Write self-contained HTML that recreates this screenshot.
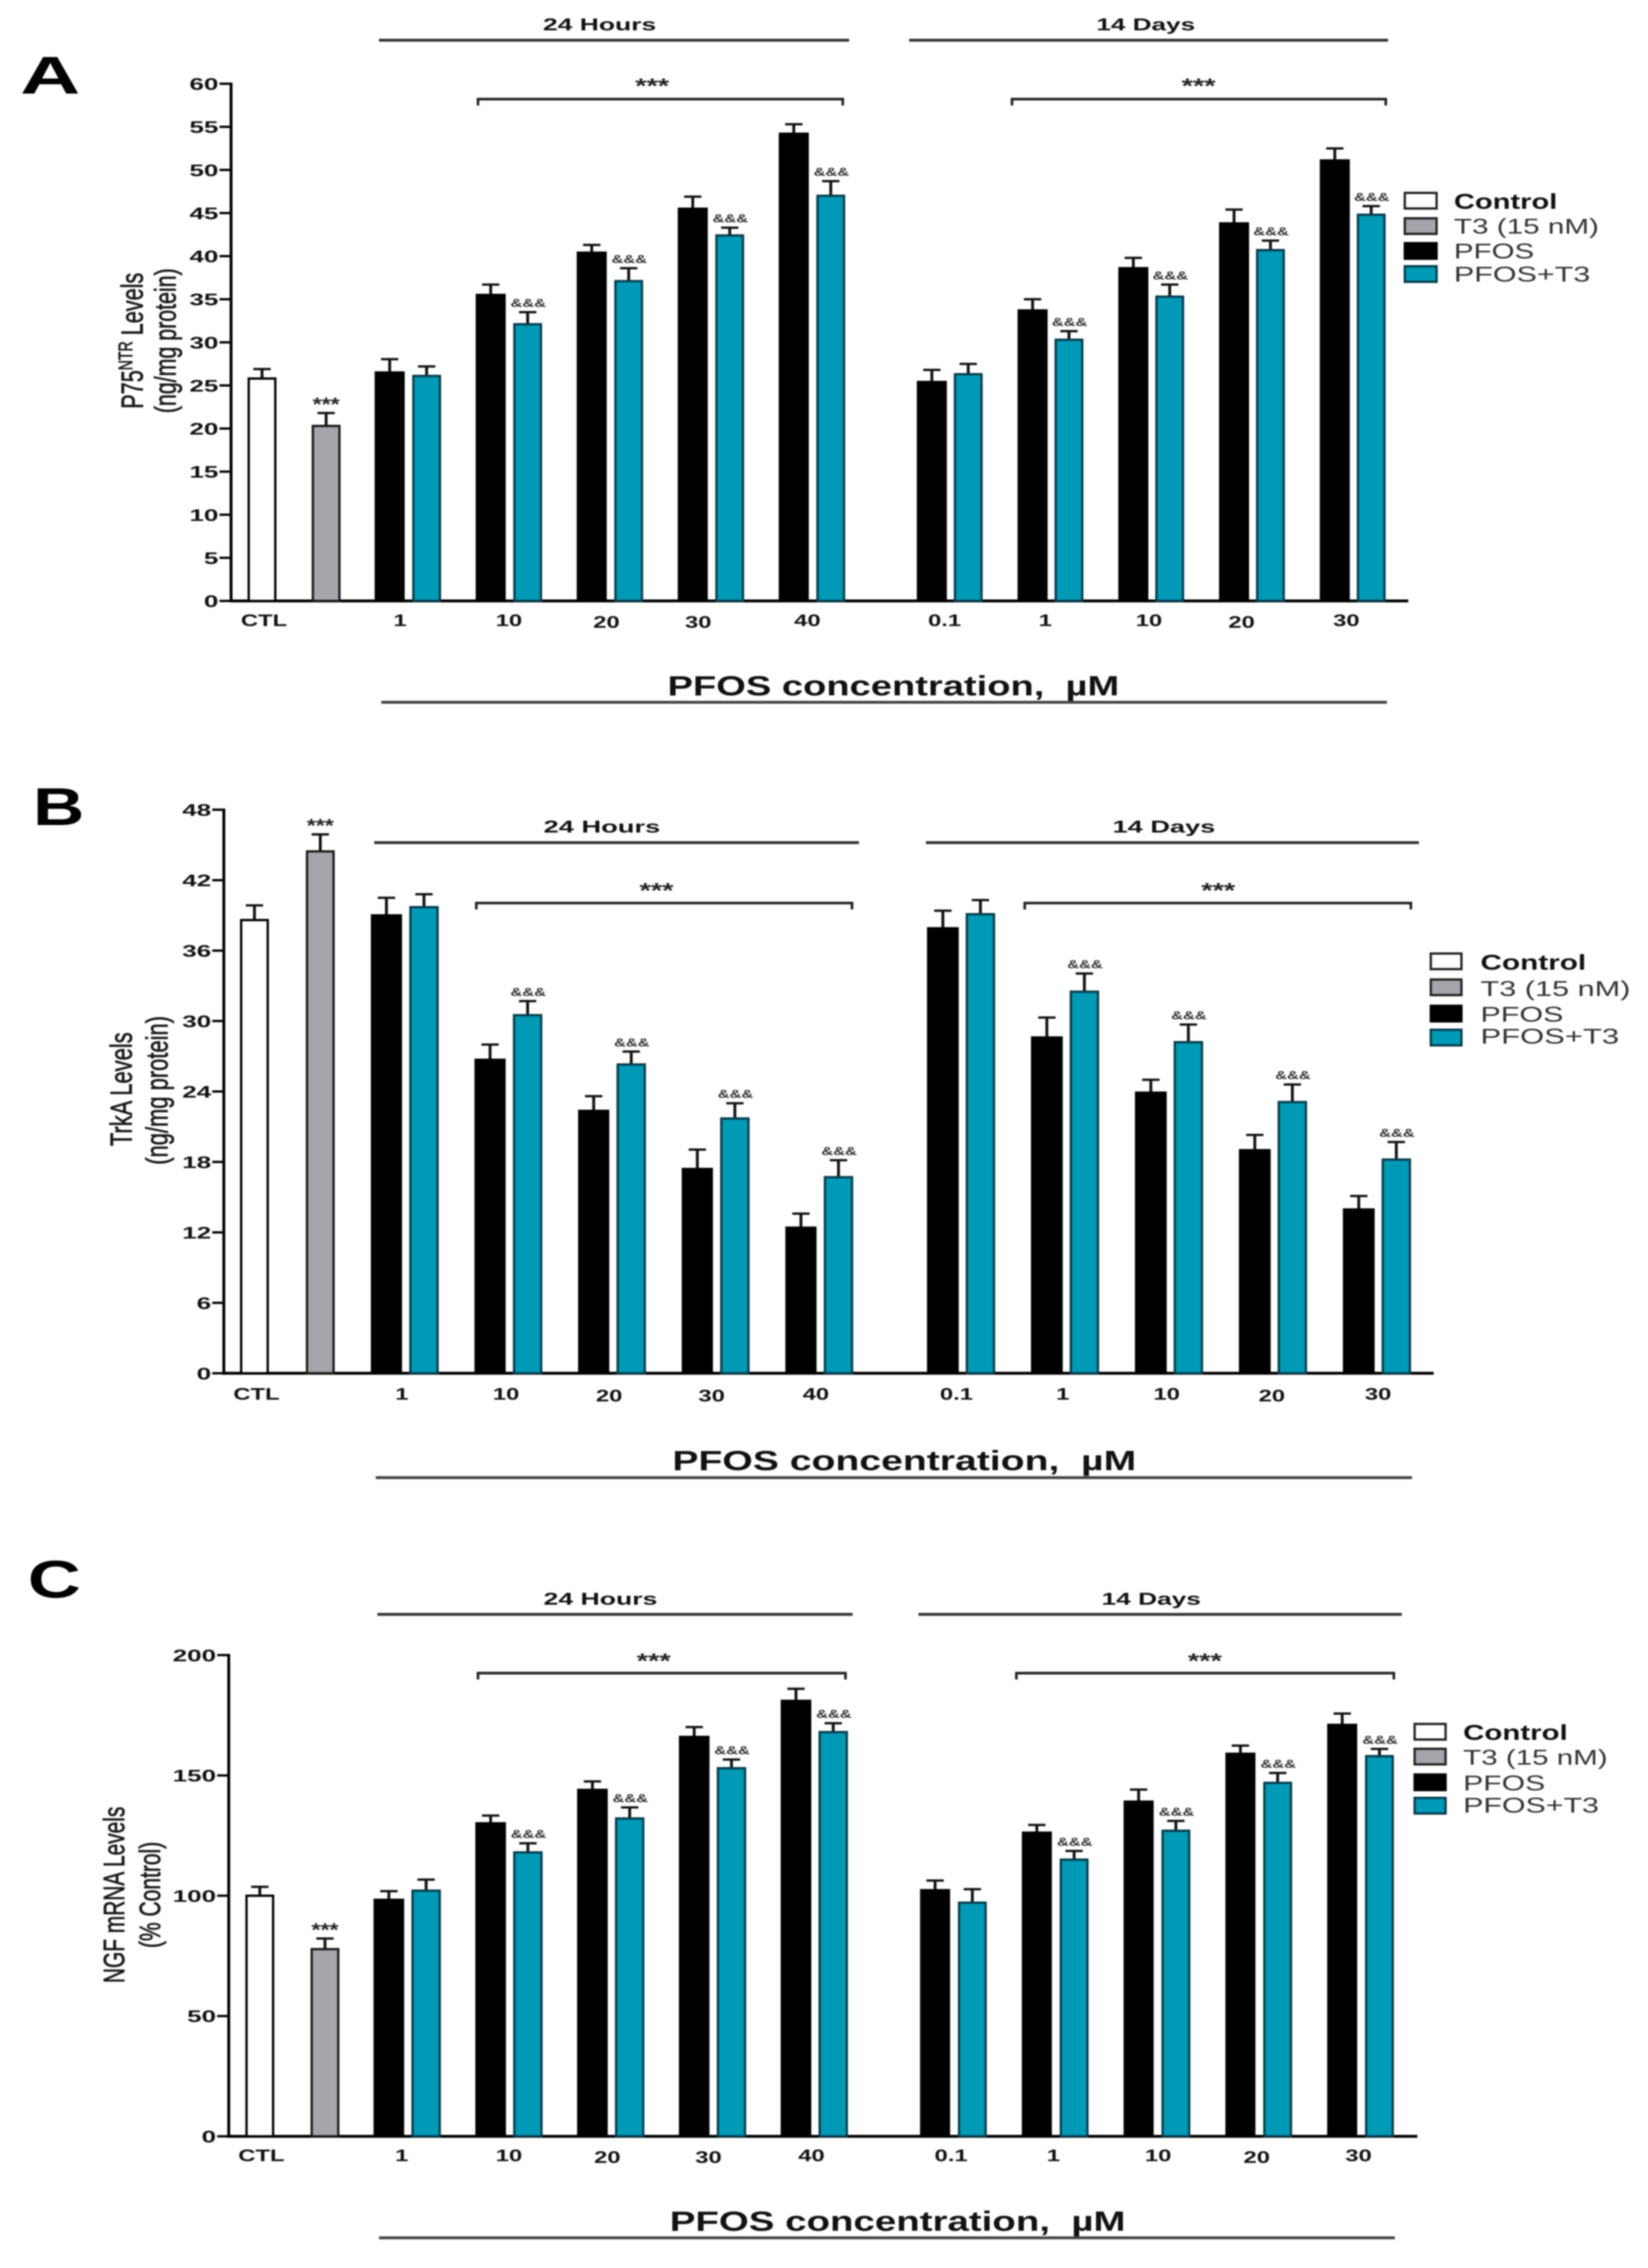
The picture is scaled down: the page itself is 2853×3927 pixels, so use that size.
<!DOCTYPE html>
<html lang="en">
<head>
<meta charset="utf-8">
<title>PFOS and T3 effects on P75NTR, TrkA and NGF levels</title>
<style>
html,body{margin:0;padding:0;background:#fff;}
#figure{display:block;width:2853px;height:3927px;filter:blur(1.4px);font-family:"Liberation Sans",sans-serif;}
</style>
</head>
<body>
<svg id="figure" xmlns="http://www.w3.org/2000/svg" width="2853" height="3927" viewBox="0 0 2853 3927"></svg>
<script>
// ---- Data ----
const hourDoses = ['1','10','20','30','40'];
const dayDoses = ['0.1','1','10','20','30'];
const legendNames = ['Control','T3 (15 nM)','PFOS','PFOS+T3'];
const hoursSignificant = [false,true,true,true,true];
const daysSignificant = [false,true,true,true,true];

const ticksA = [0,5,10,15,20,25,30,35,40,45,50,55,60];
const ctlA = [25.8, 1.1];
const t3A = [20.3, 1.5];
const hoursPfosA = [26.5,35.5,40.4,45.5,54.2];
const hoursPfosErrA = [1.55,1.2,0.9,1.4,1.1];
const hoursComboA = [26.1,32.1,37.1,42.4,47.0];
const hoursComboErrA = [1.1,1.4,1.5,0.9,1.7];
const daysPfosA = [25.4,33.7,38.6,43.8,51.1];
const daysPfosErrA = [1.4,1.3,1.2,1.6,1.4];
const daysComboA = [26.3,30.3,35.3,40.7,44.8];
const daysComboErrA = [1.2,1.0,1.4,1.1,1.0];

const ticksB = [0,6,12,18,24,30,36,42,48];
const ctlB = [38.6, 1.25];
const t3B = [44.45, 1.45];
const hoursPfosB = [39.0,26.7,22.35,17.4,12.4];
const hoursPfosErrB = [1.5,1.3,1.25,1.65,1.2];
const hoursComboB = [39.7,30.5,26.3,21.7,16.7];
const hoursComboErrB = [1.1,1.2,1.1,1.3,1.45];
const daysPfosB = [37.9,28.6,23.9,19.0,13.95];
const daysPfosErrB = [1.5,1.7,1.1,1.3,1.15];
const daysComboB = [39.1,32.5,28.2,23.1,18.2];
const daysComboErrB = [1.2,1.55,1.5,1.5,1.5];

const ticksC = [0,50,100,150,200];
const ctlC = [100, 3.7];
const t3C = [77.8, 4.4];
const hoursPfosC = [98.3,130.1,144,166,181];
const hoursPfosErrC = [3.6,3.2,3.5,4.1,5];
const hoursComboC = [102.1,118,132.1,153,168];
const hoursComboErrC = [4.6,3.8,4.6,3.6,3.7];
const daysPfosC = [102.3,126.2,139.1,159,171];
const daysPfosErrC = [4,3.2,5,3.4,4.7];
const daysComboC = [97.1,115,127,146.9,158];
const daysComboErrC = [5.6,3.6,4.1,4.1,3];

// ---- Drawing helpers ----
const NS = 'http://www.w3.org/2000/svg';
const root = document.getElementById('figure');
const TEAL = '#009ab6', TEALEDGE = '#063c4c', GRAY = '#a5a5ac';

function tag(el, name, interactable) {
  
  
  return el;
}
function make(kind, parent, props) {
  const el = document.createElementNS(NS, kind);
  for (const k in props) el.setAttribute(k, props[k]);
  parent.appendChild(el);
  return el;
}
function line(parent, name, x1, y1, x2, y2, width, color) {
  return tag(make('line', parent, {x1, y1, x2, y2, stroke: color || '#000', 'stroke-width': width}), name, false);
}
function text(parent, name, str, x, y, size, o) {
  o = o || {};
  const p = {
    'font-size': size,
    'font-weight': o.bold ? 'bold' : 'normal',
    'font-family': '"Liberation Sans", sans-serif',
    fill: o.fill || '#111',
    'text-anchor': o.anchor || 'start',
    transform: 'translate(' + x + ' ' + y + ') scale(' + (o.sx || 1) + ' 1)' + (o.rot ? ' rotate(-90)' : '')
  };
  if (o.len) { p.textLength = o.len; p.lengthAdjust = 'spacingAndGlyphs'; }
  if (o.stroke) { p.stroke = o.fill || '#111'; p['stroke-width'] = o.stroke; }
  const el = make('text', parent, p);
  el.textContent = str;
  return tag(el, name, false);
}
function bar(parent, name, x, w, yTop, yBase, fill, edge) {
  return tag(make('rect', parent, {x: x + 2, y: yTop, width: w - 4, height: yBase - yTop, fill, stroke: edge, 'stroke-width': 4}), name, false);
}
function errorBar(parent, name, cx, yTop, yFrom) {
  const g = tag(make('g', parent, {}), name, false);
  line(g, name + '-stem', cx, yFrom, cx, yTop, 5, '#111');
  line(g, name + '-cap', cx - 15, yTop, cx + 15, yTop, 4, '#111');
}
function bracket(parent, name, x1, x2, y, starX, starY) {
  const g = tag(make('g', parent, {}), name, false);
  tag(make('path', g, {d: 'M' + x1 + ' ' + (y + 11) + 'V' + y + 'H' + x2 + 'V' + (y + 11), fill: 'none', stroke: '#222', 'stroke-width': 4.5}), name + '-line', false);
  text(g, name + '-stars', '***', starX, starY, 36, {bold: true, anchor: 'middle', sx: 1.4, fill: '#222'});
}

function drawPanel(c) {
  const g = tag(make('g', root, {}), 'panel-' + c.id, false);
  const y = v => c.y0 + (c.yTop - c.y0) * v / c.yMax;

  // panel letter
  text(g, 'panel-letter-' + c.id, c.letter[0], c.letter[1], c.letter[2], 92, {bold: true, fill: '#000', len: c.letter[3]});

  // axes
  const axes = tag(make('g', g, {}), 'axes-' + c.id, false);
  line(axes, 'y-axis', c.axisX, c.yTop - 2, c.axisX, c.y0 + 2.5, 5);
  line(axes, 'x-axis', c.axisX - 2, c.y0, c.axisEnd, c.y0, 5);
  c.ticks.forEach(t => {
    line(axes, 'y-tick', c.axisX - 20, y(t), c.axisX, y(t), 4);
    text(axes, 'y-tick-label', String(t), c.axisX - 22, y(t) + 10.5, 29, {bold: true, anchor: 'end', sx: 1.55});
  });

  // y titles
  const t1 = text(g, 'y-axis-title', '', c.title1[0], c.title1[1], c.title1[2], {anchor: 'middle', rot: true, sx: 1.4, fill: '#1a1a1a', stroke: 0.8});
  c.title1[3].forEach(part => {
    const s = make('tspan', t1, part[1] ? {'font-size': c.title1[2] * 0.65, dy: -13} : {dy: part[2] || 0});
    s.textContent = part[0];
  });
  text(g, 'y-axis-subtitle', c.title2[3], c.title2[0], c.title2[1], c.title2[2], {anchor: 'middle', rot: true, sx: 1.4, fill: '#1a1a1a', stroke: 0.8});

  // control and T3 bars
  const bars = tag(make('g', g, {}), 'bars-' + c.id, false);
  const w0 = 50;
  [[c.ctlX, c.ctl, '#fff', '#000', 'control'], [c.t3X, c.t3, GRAY, '#1a1a1a', 't3']].forEach(b => {
    errorBar(bars, b[4] + '-error-bar', b[0] + w0 / 2, y(b[1][0] + b[1][1]), y(b[1][0]));
    bar(bars, b[4] + '-bar', b[0], w0, y(b[1][0]), c.y0, b[2], b[3]);
  });
  text(bars, 't3-significance', '***', c.t3X + w0 / 2, y(c.t3[0] + c.t3[1]) - 4, 32, {bold: true, anchor: 'middle', sx: 1.25, fill: '#222'});
  text(g, 'x-tick-label-ctl', 'CTL', c.ctlLabel[0], c.ctlLabel[1], 29, {bold: true, anchor: 'middle', sx: 1.42});

  // dose groups
  function group(s, pfos, pfosErr, combo, comboErr, doses, sig, period) {
    const slot = i => s.start + i * s.step;
    const cx = (i) => slot(i) + (s.off + s.wc) / 2;
    pfos.forEach((v, i) => {
      const bx = slot(i), tx = slot(i) + s.off;
      errorBar(bars, 'pfos-error-bar-' + period, bx + s.w / 2, y(v + pfosErr[i]), y(v));
      bar(bars, 'pfos-bar-' + period + '-' + doses[i], bx, s.w, y(v), c.y0, '#000', '#000');
      errorBar(bars, 'pfos-t3-error-bar-' + period, tx + s.wc / 2, y(combo[i] + comboErr[i]), y(combo[i]));
      bar(bars, 'pfos-t3-bar-' + period + '-' + doses[i], tx, s.wc, y(combo[i]), c.y0, TEAL, TEALEDGE);
      if (sig[i]) {
        text(bars, 'pfos-t3-significance', '&&&', tx + s.wc / 2 + 1, y(combo[i] + comboErr[i]) - 9, 20, {anchor: 'middle', sx: 1.42, fill: '#333', bold: true});
      }
      text(g, 'x-tick-label', doses[i], cx(i) + s.nudge[i], c.labelY + s.dy[i], 29, {bold: true, anchor: 'middle', sx: 1.42});
    });
  }
  group(c.hours, c.hp, c.hpe, c.hc, c.hce, hourDoses, hoursSignificant, '24h');
  group(c.days, c.dp, c.dpe, c.dc, c.dce, dayDoses, daysSignificant, '14d');

  // period headers
  const a = c.annot;
  line(g, 'hours-header-line', a.hLine[0], a.lineY, a.hLine[1], a.lineY, 5, '#333');
  line(g, 'days-header-line', a.dLine[0], a.lineY, a.dLine[1], a.lineY, 5, '#333');
  text(g, 'hours-header', '24 Hours', a.hText[0], a.textY, 30, {bold: true, len: a.hText[1]});
  text(g, 'days-header', '14 Days', a.dText[0], a.textY, 30, {bold: true, len: a.dText[1]});

  // brackets
  bracket(g, 'hours-significance-bracket', a.hBr[0], a.hBr[1], a.brY, a.hBr[2], a.starY);
  bracket(g, 'days-significance-bracket', a.dBr[0], a.dBr[1], a.brY, a.dBr[2], a.starY);

  // x title
  text(g, 'x-axis-title', 'PFOS concentration,\u00a0 \u00b5M', a.xTitle[0], a.xTitle[1], 48, {bold: true, fill: '#111', len: a.xTitle[2]});
  line(g, 'x-axis-title-line', a.xLine[0], a.xLine[2], a.xLine[1], a.xLine[2], 5, '#444');

  // legend
  const leg = tag(make('g', g, {}), 'legend-' + c.id, false);
  const fills = [['#fff', '#222'], [GRAY, '#222'], ['#000', '#000'], [TEAL, TEALEDGE]];
  legendNames.forEach((n, i) => {
    const L = c.legend;
    const box = make('rect', leg, {x: L.x + 2, y: L.y[i] + 2, width: L.w - 4, height: L.h - 4, fill: fills[i][0], stroke: fills[i][1], 'stroke-width': 4});
    tag(box, 'legend-swatch', false);
    text(leg, 'legend-label', n, L.tx, L.by[i], 37, {bold: i === 0, len: L.len[i], fill: i === 0 ? '#111' : '#333'});
  });
}

drawPanel({
  id: 'a', letter: ['A', 35, 162, 104], yMax: 60, y0: 1040.5, yTop: 145, axisX: 400, axisEnd: 2438, ticks: ticksA,
  title1: [247, 590, 37.5, [['P75'], ['NTR', true], [' Levels', false, 13]]],
  title2: [304, 590, 37, '(ng/mg protein)'],
  ctl: ctlA, t3: t3A, ctlX: 428.6, t3X: 539.6, ctlLabel: [457, 1084], labelY: 1084,
  hours: {start: 648.6, step: 174.9, w: 52, wc: 50, off: 65, nudge: [-13.5,0,-6,-22,-8], dy: [0,0,3,3,0]},
  days: {start: 1587.2, step: 174.4, w: 52, wc: 50, off: 64, nudge: [-9,-9,-4,-18,-11], dy: [0,0,0,3,0]},
  hp: hoursPfosA, hpe: hoursPfosErrA, hc: hoursComboA, hce: hoursComboErrA,
  dp: daysPfosA, dpe: daysPfosErrA, dc: daysComboA, dce: daysComboErrA,
  annot: {lineY: 69.6, textY: 52.5, hLine: [656, 1470], dLine: [1574, 2403], hText: [940, 196], dText: [1898, 171],
    brY: 171.6, starY: 161, hBr: [827.5, 1459, 1129], dBr: [1752, 2399, 2075],
    xTitle: [1155.6, 1204, 782], xLine: [660, 2401, 1216]},
  legend: {x: 2430, w: 59, h: 31, y: [332, 376, 419, 459], tx: 2517, by: [361.5, 404.6, 447.7, 487.5], len: [179, 251, 139, 236]}
});

drawPanel({
  id: 'b', letter: ['B', 57, 1428.5, 89], yMax: 48, y0: 2377.8, yTop: 1402, axisX: 387.5, axisEnd: 2482, ticks: ticksB,
  title1: [228, 1886, 38, [['TrkA Levels']]],
  title2: [290, 1888, 38, '(ng/mg protein)'],
  ctl: ctlB, t3: t3B, ctlX: 415.5, t3X: 529.5, ctlLabel: [444, 2423.4], labelY: 2423.4,
  hours: {start: 642, step: 179.4, w: 54, wc: 51, off: 66.5, nudge: [-5,-4,-5,-7,-6], dy: [0,0,3,3,0]},
  days: {start: 1604.8, step: 180, w: 55, wc: 51, off: 67, nudge: [-8,-4,-4,-2,2], dy: [0,0,0,3,0]},
  hp: hoursPfosB, hpe: hoursPfosErrB, hc: hoursComboB, hce: hoursComboErrB,
  dp: daysPfosB, dpe: daysPfosErrB, dc: daysComboB, dce: daysComboErrB,
  annot: {lineY: 1459, textY: 1441.5, hLine: [647.7, 1487], dLine: [1603, 2456.4], hText: [941, 202], dText: [1926, 178],
    brY: 1563.6, starY: 1554, hBr: [824.6, 1475, 1136.5], dBr: [1774, 2442.5, 2109],
    xTitle: [1164, 2545.3, 803], xLine: [650.5, 2444.4, 2558.5]},
  legend: {x: 2475, w: 57, h: 31, y: [1649, 1694, 1739.5, 1781], tx: 2563, by: [1679, 1724.5, 1769, 1807], len: [183, 259.5, 143.6, 240]}
});

drawPanel({
  id: 'c', letter: ['C', 48, 2766, 92], yMax: 200, y0: 3699, yTop: 2865.8, axisX: 396, axisEnd: 2453.7, ticks: ticksC,
  title1: [215, 3281, 36.2, [['NGF mRNA Levels']]],
  title2: [277, 3281, 36.4, '(% Control)'],
  ctl: ctlC, t3: t3C, ctlX: 424.8, t3X: 537.6, ctlLabel: [452.5, 3742], labelY: 3742,
  hours: {start: 646.7, step: 176.2, w: 53, wc: 51, off: 65.5, nudge: [-9.5,0,-6,-7,-5], dy: [0,0,3,3,0]},
  days: {start: 1592.8, step: 176.2, w: 52, wc: 50, off: 65.5, nudge: [-4,-3,2,-3.5,-3.5], dy: [0,0,0,3,0]},
  hp: hoursPfosC, hpe: hoursPfosErrC, hc: hoursComboC, hce: hoursComboErrC,
  dp: daysPfosC, dpe: daysPfosErrC, dc: daysComboC, dce: daysComboErrC,
  annot: {lineY: 2795.3, textY: 2778.5, hLine: [653.4, 1476], dLine: [1590, 2426.8], hText: [941, 197], dText: [1907, 172],
    brY: 2897, starY: 2888, hBr: [827.5, 1463.7, 1131.7], dBr: [1759.6, 2413, 2085.8],
    xTitle: [1159.5, 3862.3, 789], xLine: [656, 2414.7, 3874.7]},
  legend: {x: 2447, w: 57.6, h: 31, y: [2983, 3026, 3070.5, 3111], tx: 2533, by: [3012.5, 3055.6, 3100, 3138.5], len: [181, 250, 142, 235]}
});
</script>
</body>
</html>
